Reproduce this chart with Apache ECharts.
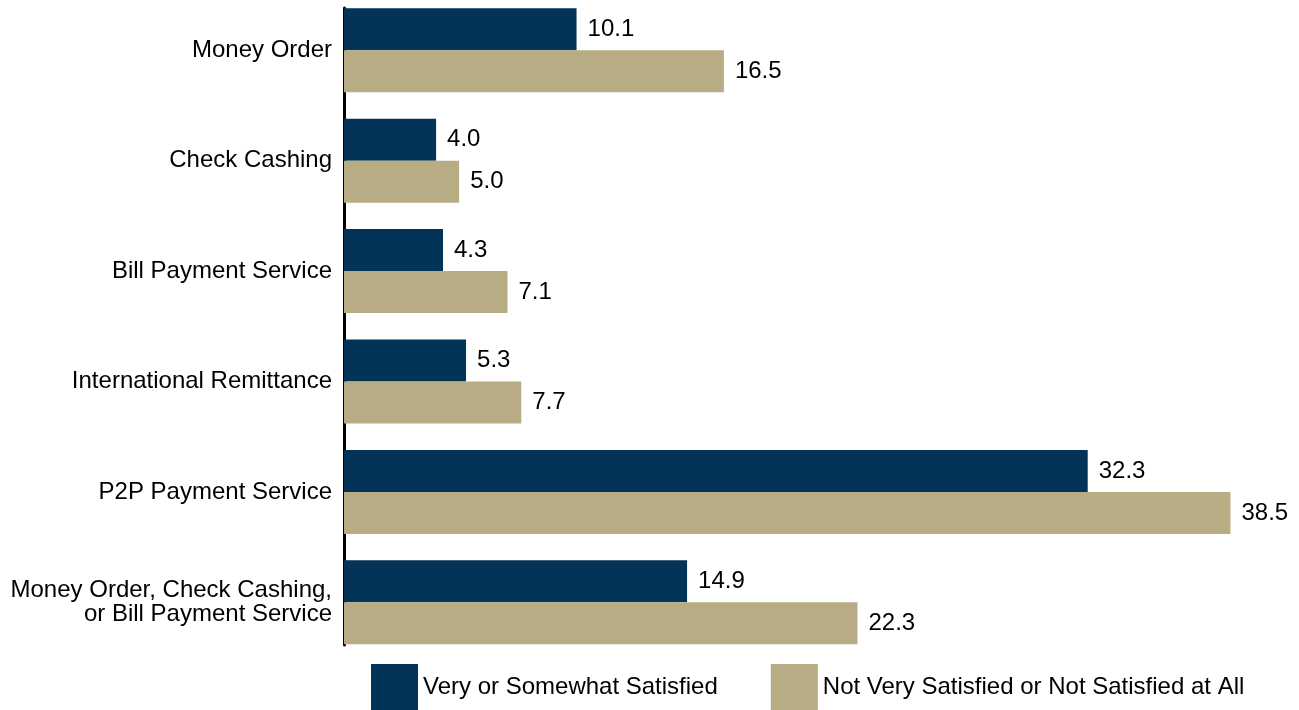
<!DOCTYPE html>
<html><head><meta charset="utf-8">
<script src="https://cdn.jsdelivr.net/npm/echarts@6/dist/echarts.min.js"></script>
<style>html,body{margin:0;padding:0;background:#fff}#c{width:1299px;height:710px}</style>
</head><body><div id="c"></div>
<script>
const categories = ["Money Order", "Check Cashing", "Bill Payment Service", "International Remittance", "P2P Payment Service", "Money Order, Check Cashing,\nor Bill Payment Service"];
const satisfied = [10.1, 4.0, 4.3, 5.3, 32.3, 14.9];
const notSatisfied = [16.5, 5.0, 7.1, 7.7, 38.5, 22.3];
const seriesNames = ["Very or Somewhat Satisfied", "Not Very Satisfied or Not Satisfied at All"];

const font = "'Liberation Sans', Arial, sans-serif";
const chart = echarts.init(document.getElementById('c'));
const lbl = {show: true, position: 'right', distance: 11, color: '#000', fontFamily: font, fontSize: 24, formatter: p => p.value.toFixed(1)};
chart.setOption({
  animation: false,
  grid: [
    {left: 344, right: 34, top: -5, height: 662.5, containLabel: false, outerBoundsMode: 'none'},
    {left: 344, right: 34, top: 8, height: 637, containLabel: false, outerBoundsMode: 'none'}
  ],
  legend: {
    left: 371, top: 664, itemWidth: 47, itemHeight: 46, itemGap: 53, padding: 0,
    icon: 'rect',
    textStyle: {fontFamily: font, fontSize: 24, color: '#000'},
    data: seriesNames
  },
  xAxis: [
    {gridIndex: 0, type: 'value', min: 0, max: 40, show: false},
    {gridIndex: 1, type: 'value', min: 0, max: 40, show: false}
  ],
  yAxis: [
    {gridIndex: 0, type: 'category', inverse: true, data: categories,
     axisLine: {show: false}, axisTick: {show: false},
     axisLabel: {fontFamily: font, fontSize: 24, color: '#000', margin: 12, lineHeight: 24, align: 'right'}},
    {gridIndex: 1, type: 'category', inverse: true, data: categories,
     axisLine: {show: true, lineStyle: {color: '#000', width: 3}}, axisTick: {show: false}, axisLabel: {show: false}}
  ],
  series: [
    {name: seriesNames[0], type: 'bar', xAxisIndex: 0, yAxisIndex: 0, data: satisfied, barWidth: 42, barGap: '0%',
     itemStyle: {color: '#033356'}, label: lbl},
    {name: seriesNames[1], type: 'bar', xAxisIndex: 0, yAxisIndex: 0, data: notSatisfied, barWidth: 42, barGap: '0%',
     itemStyle: {color: '#B8AC85'}, label: lbl}
  ]
});
</script></body></html>
